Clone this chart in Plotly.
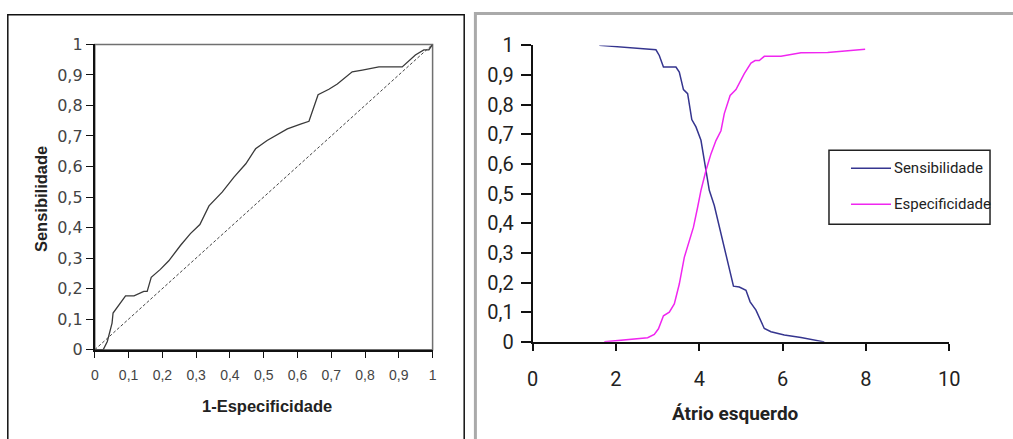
import plotly.graph_objects as go

W, H = 1013, 439

# ---- data: ROC curve (left) ----
roc_fpr = [0, 0.025, 0.037, 0.051, 0.054, 0.091, 0.116, 0.145, 0.155, 0.167, 0.194, 0.219,
           0.254, 0.283, 0.311, 0.338, 0.377, 0.412, 0.447, 0.476, 0.51, 0.54, 0.57, 0.609,
           0.634, 0.661, 0.693, 0.718, 0.762, 0.792, 0.841, 0.91, 0.949, 0.974, 0.989, 1.0]
roc_sens = [0, 0, 0.027, 0.087, 0.12, 0.176, 0.176, 0.191, 0.191, 0.237, 0.263, 0.291,
            0.342, 0.38, 0.41, 0.471, 0.516, 0.565, 0.609, 0.658, 0.685, 0.703, 0.723, 0.739,
            0.748, 0.835, 0.853, 0.87, 0.91, 0.916, 0.926, 0.926, 0.965, 0.982, 0.982, 1.0]
diag_x = [0, 1]
diag_y = [0, 1]

# ---- data: sensitivity / specificity vs left atrium (right) ----
sens_x = [1.60, 2.80, 2.96, 3.04, 3.14, 3.44, 3.52, 3.62, 3.72, 3.82, 3.92, 4.04, 4.16, 4.24,
          4.36, 4.52, 4.68, 4.82, 4.96, 5.12, 5.22, 5.36, 5.56, 5.72, 6.04, 6.44, 7.0]
sens_y = [1.0, 0.987, 0.985, 0.966, 0.927, 0.927, 0.910, 0.851, 0.837, 0.750, 0.725, 0.68,
          0.57, 0.511, 0.46, 0.365, 0.264, 0.188, 0.185, 0.174, 0.135, 0.107, 0.045, 0.034,
          0.023, 0.015, 0.0]
spec_x = [1.72, 2.04, 2.76, 2.92, 3.02, 3.14, 3.28, 3.40, 3.52, 3.64, 3.76, 3.86, 3.96, 4.04,
          4.16, 4.28, 4.40, 4.52, 4.60, 4.74, 4.88, 5.08, 5.24, 5.34, 5.44, 5.56, 5.96, 6.44,
          7.08, 7.56, 7.98]
spec_y = [0, 0.005, 0.014, 0.025, 0.044, 0.088, 0.10, 0.128, 0.195, 0.285, 0.342, 0.387,
          0.454, 0.511, 0.578, 0.634, 0.679, 0.712, 0.770, 0.831, 0.851, 0.905, 0.940, 0.949,
          0.949, 0.963, 0.963, 0.975, 0.976, 0.982, 0.987]

# ---- tick labels / names ----
left_tickvals = [0, 0.1, 0.2, 0.3, 0.4, 0.5, 0.6, 0.7, 0.8, 0.9, 1]
left_ticktext = ["0", "0,1", "0,2", "0,3", "0,4", "0,5", "0,6", "0,7", "0,8", "0,9", "1"]
right_xtickvals = [0, 2, 4, 6, 8, 10]
right_xticktext = ["0", "2", "4", "6", "8", "10"]
series_names = ["Sensibilidade", "Especificidade"]
series_colors = ["#35358f", "#f026f0"]


# target screen pixel -> paper coordinate (compensates the small inset of the capture)
def px(x):
    return ((x - 5.2) / 0.983) / W


def py(y):
    return 1 - ((y - 11.6) / 0.946) / H


fig = go.Figure()

fig.add_trace(go.Scatter(x=roc_fpr, y=roc_sens, mode="lines", xaxis="x", yaxis="y",
                         line=dict(color="#3a3a3a", width=1.3), showlegend=False))
fig.add_trace(go.Scatter(x=diag_x, y=diag_y, mode="lines", xaxis="x", yaxis="y",
                         line=dict(color="#444444", width=1, dash="3px,2px"), showlegend=False))

fig.add_trace(go.Scatter(x=sens_x, y=sens_y, mode="lines", xaxis="x2", yaxis="y2",
                         name=series_names[0], showlegend=False,
                         line=dict(color=series_colors[0], width=1.5)))
fig.add_trace(go.Scatter(x=spec_x, y=spec_y, mode="lines", xaxis="x2", yaxis="y2",
                         name=series_names[1], showlegend=False,
                         line=dict(color=series_colors[1], width=1.5)))

NARROW = "Roboto, Liberation Sans, Arial"
left_yfont = dict(family="DejaVu Sans", size=16, color="#444444")
left_xfont = dict(family="Liberation Sans, Arial", size=14, color="#444444")
right_font = dict(family=NARROW, size=20, color="#222222")

shapes = [
    # left panel outer frame
    dict(type="rect", xref="paper", yref="paper", x0=px(7), x1=px(463.3),
         y0=-0.1, y1=1 - 3 / H, line=dict(color="#111111", width=1.5), layer="below"),
    # left plot-area frame (top/right gray)
    dict(type="rect", xref="paper", yref="paper", x0=px(94), x1=px(431.7),
         y0=py(349.5), y1=py(44), line=dict(color="#707070", width=1.5), layer="below"),
    # right panel outer frame
    dict(type="rect", xref="paper", yref="paper", x0=px(474.5), x1=1.1,
         y0=-0.1, y1=1 - 1.5 / H, line=dict(color="#aaaaaa", width=3), layer="below"),
    # legend box
    dict(type="rect", xref="paper", yref="paper", x0=px(828), x1=px(989),
         y0=py(224), y1=py(150), line=dict(color="#222222", width=1.5),
         fillcolor="white"),
]
annotations = [
    dict(text="<b>1-Especificidade</b>", xref="paper", yref="paper", x=px(266.5), y=py(406),
         xanchor="center", yanchor="middle", showarrow=False,
         font=dict(family="Liberation Sans, Arial", size=16.5, color="#222222")),
    dict(text="<b>Sensibilidade</b>", xref="paper", yref="paper", x=px(40), y=py(199),
         xanchor="center", yanchor="middle", textangle=-90, showarrow=False,
         font=dict(family="Liberation Sans, Arial", size=16.5, color="#222222")),
    dict(text="<b>Átrio esquerdo</b>", xref="paper", yref="paper", x=px(735), y=py(413),
         xanchor="center", yanchor="middle", showarrow=False,
         font=dict(family=NARROW, size=19, color="#222222")),
]
# legend entries (line sample + label)
for name, color, ly in zip(series_names, series_colors, [168, 204]):
    shapes.append(dict(type="line", xref="paper", yref="paper", x0=px(850), x1=px(890),
                       y0=py(ly), y1=py(ly), line=dict(color=color, width=1.5)))
    annotations.append(dict(text=name, xref="paper", yref="paper", x=px(891), y=py(ly),
                            xanchor="left", yanchor="middle", showarrow=False,
                            font=dict(family=NARROW, size=15, color="#222222")))

fig.update_layout(
    width=W, height=H,
    margin=dict(l=0, r=0, t=0, b=0),
    paper_bgcolor="white", plot_bgcolor="white",
    showlegend=False,
    xaxis=dict(domain=[px(94), px(431.7)], range=[0, 1], anchor="y",
               tickvals=left_tickvals, ticktext=left_ticktext, tickfont=left_xfont,
               ticklabelstandoff=6,
               showgrid=False, zeroline=False, showline=True, linecolor="#111111", linewidth=2,
               ticks="outside", ticklen=6, tickcolor="#111111", tickwidth=1.2),
    yaxis=dict(domain=[py(349.5), py(44)], range=[0, 1], anchor="x",
               tickvals=left_tickvals, ticktext=left_ticktext, tickfont=left_yfont,
               showgrid=False, zeroline=False, showline=True, linecolor="#111111", linewidth=2,
               ticks="outside", ticklen=7, tickcolor="#111111", tickwidth=1.2),
    xaxis2=dict(domain=[px(531.7), px(948.3)], range=[0, 10], anchor="y2",
                tickvals=right_xtickvals, ticktext=right_xticktext, tickfont=right_font,
                ticklabelstandoff=11,
                showgrid=False, zeroline=False, showline=True, linecolor="#111111", linewidth=1.8,
                ticks="outside", ticklen=7, tickcolor="#111111", tickwidth=1.5),
    yaxis2=dict(domain=[py(341.7), py(45)], range=[0, 1], anchor="x2",
                tickvals=left_tickvals, ticktext=left_ticktext, tickfont=right_font,
                ticklabelstandoff=3,
                showgrid=False, zeroline=False, showline=True, linecolor="#111111", linewidth=1.8,
                ticks="outside", ticklen=10, tickcolor="#111111", tickwidth=1.5),
    shapes=shapes,
    annotations=annotations,
)

fig.write_html("out.html", config={"displayModeBar": False},
               post_script="document.body.style.margin='0';document.body.style.overflow='hidden';")
